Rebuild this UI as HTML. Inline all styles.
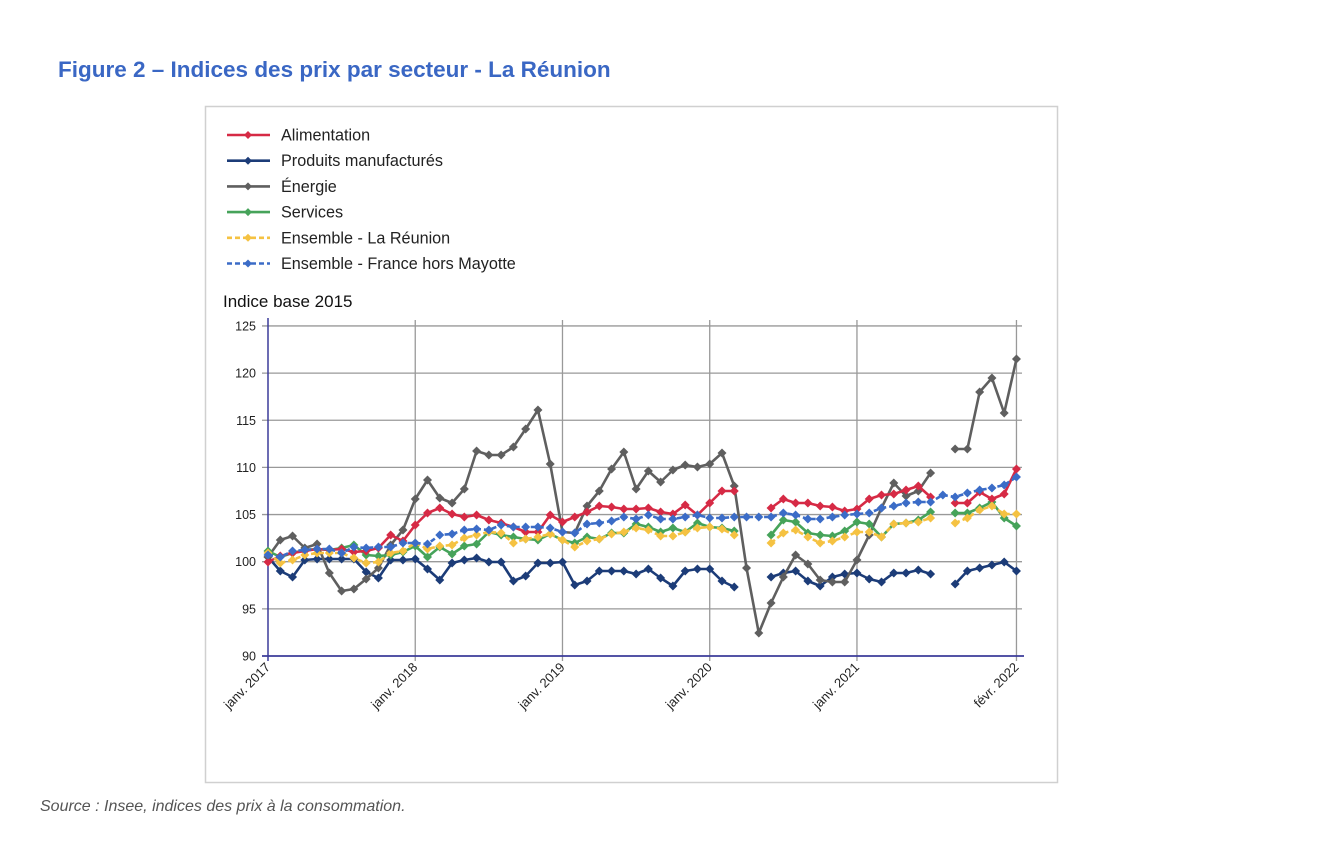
<!DOCTYPE html>
<html><head><meta charset="utf-8"><style>
body{margin:0;background:#fff;width:1318px;height:840px;overflow:hidden;font-family:"Liberation Sans","DejaVu Sans",sans-serif}
</style></head><body>
<svg id="s" width="1318" height="840" xmlns="http://www.w3.org/2000/svg" font-family="Liberation Sans, DejaVu Sans, sans-serif">
<text x="58" y="77" font-size="22.5" font-weight="bold" fill="#3a67c4">Figure 2 – Indices des prix par secteur - La Réunion</text>
<rect x="205.5" y="106.5" width="852" height="676" fill="none" stroke="#d0d0d0" stroke-width="1.5"/>
<text x="40" y="811" font-size="16" font-style="italic" fill="#555">Source : Insee, indices des prix à la consommation.</text>
<g id="grid"></g>
<g id="series"></g>
<g id="legend" font-size="16.2" fill="#222"></g>
<text x="223" y="307" font-size="17" fill="#111">Indice base 2015</text>
</svg>
<script>
const NS="http://www.w3.org/2000/svg";
function el(t,a,p){const e=document.createElementNS(NS,t);for(const k in a)e.setAttribute(k,a[k]);p.appendChild(e);return e;}
const g=document.getElementById('grid'),S=document.getElementById('series'),L=document.getElementById('legend');
const X=i=>268+i*12.27, Y=v=>656-(v-90)*9.43;
for(let v=95;v<=125;v+=5){el('line',{x1:262,x2:1022,y1:Y(v),y2:Y(v),stroke:'#999','stroke-width':1.3},g);}
for(let v=90;v<=125;v+=5){const t=el('text',{x:256,y:Y(v)+4.5,'text-anchor':'end','font-size':12.5,fill:'#222'},g);t.textContent=v;}
const yrs=[[0,'janv. 2017'],[12,'janv. 2018'],[24,'janv. 2019'],[36,'janv. 2020'],[48,'janv. 2021'],[61,'févr. 2022']];
yrs.forEach(([i,l])=>{const x=X(i);if(i>0)el('line',{x1:x,x2:x,y1:320,y2:661,stroke:'#999','stroke-width':1.3},g);
 const t=el('text',{x:x+3,y:668,'text-anchor':'end','font-size':13,fill:'#222',transform:`rotate(-45 ${x+3} 668)`},g);t.textContent=l;});
el('line',{x1:268,x2:268,y1:318,y2:661,stroke:'#3b3b9a','stroke-width':1.5},g);
el('line',{x1:262,x2:1024,y1:656,y2:656,stroke:'#3b3b9a','stroke-width':1.8},g);
const N=null;
const energy=[557,540,536,548,544,573,591,589,579,568,545,530,499,480,498,503,489,451,455,455,447,429,410,464,532,533,506,491,469,452,489,471,482,470,465,467,464,453,486,568,633,603,577,555,564,580,582,582,560,535,508,483,496,491,473,N,449,449,392,378,413,359];
const red=[562,556,553,551,549,550,549,552,551,548,535,541,525,513,508,514,517,515,520,523,527,532,532,515,522,517,512,506,507,509,509,508,512,514,505,515,503,491,491,N,N,508,499,503,503,506,507,511,509,499,495,494,490,486,497,N,503,503,492,499,494,469];
const navy=[557,571,577,560,559,559,559,559,572,578,560,560,559,569,580,563,560,558,562,562,581,576,563,563,562,585,581,571,571,571,574,569,578,586,571,569,569,581,587,N,N,577,573,571,581,586,577,574,573,579,582,573,573,570,574,N,584,571,568,565,562,571];
const green=[551,557,553,550,549,550,548,545,555,556,555,552,546,557,547,554,546,544,532,535,537,539,540,534,540,543,537,539,533,533,524,527,532,528,532,523,527,528,531,N,N,535,520,522,533,535,536,531,522,524,537,524,523,520,512,N,513,513,508,502,518,526];
const yel=[553,563,560,555,553,553,553,558,563,562,553,551,543,549,546,545,538,535,532,533,543,539,537,534,540,547,541,539,534,532,528,530,536,536,532,528,527,529,535,N,N,543,533,530,537,543,541,537,532,532,537,524,523,522,518,N,523,518,510,506,514,514];
const blue=[555,557,551,550,549,549,553,547,548,547,547,543,543,544,535,534,530,529,530,525,527,527,527,528,532,533,524,523,521,517,519,515,519,519,517,515,518,518,517,517,517,517,513,515,519,519,517,515,514,513,508,506,503,502,502,495,497,493,490,488,485,477];
function draw(arr,col,dash){
 let segs=[],cur=[];
 arr.forEach((y,i)=>{if(y===null){if(cur.length)segs.push(cur);cur=[];}else cur.push([X(i),y]);});
 if(cur.length)segs.push(cur);
 segs.forEach(sg=>{el('polyline',{points:sg.map(p=>p.join(',')).join(' '),fill:'none',stroke:col,'stroke-width':2.6,'stroke-linejoin':'round','stroke-dasharray':dash?'5,3':'none'},S);});
 arr.forEach((y,i)=>{if(y!==null){const x=X(i);el('polygon',{points:`${x},${y-4.5} ${x+4.5},${y} ${x},${y+4.5} ${x-4.5},${y}`,fill:col},S);}});
}
draw(navy,'#1c3c78');draw(energy,'#5f5f5f');draw(green,'#46a35a');draw(red,'#d62a45');draw(yel,'#f5c242',1);draw(blue,'#3b6cc7',1);
const leg=[['Alimentation','#d62a45',0],['Produits manufacturés','#1c3c78',0],['Énergie','#5f5f5f',0],['Services','#46a35a',0],['Ensemble - La Réunion','#f5c242',1],['Ensemble - France hors Mayotte','#3b6cc7',1]];
leg.forEach(([t,c,d],k)=>{const y=135+k*25.7;
 el('line',{x1:227,x2:270,y1:y,y2:y,stroke:c,'stroke-width':2.6,'stroke-dasharray':d?'5,3':'none'},L);
 el('polygon',{points:`248,${y-4} 252,${y} 248,${y+4} 244,${y}`,fill:c},L);
 const tx=el('text',{x:281,y:y+5.5},L);tx.textContent=t;});
</script>
</body></html>
